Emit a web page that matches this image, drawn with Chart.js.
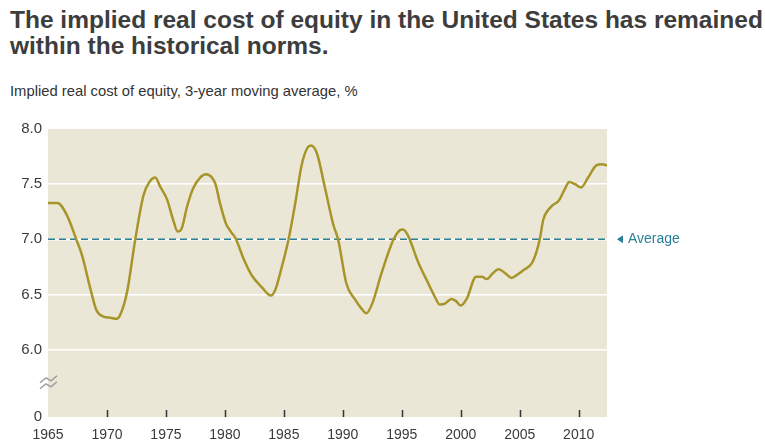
<!DOCTYPE html>
<html>
<head>
<meta charset="utf-8">
<script src="https://cdn.jsdelivr.net/npm/chart.js@4"></script>
<style>
  html, body { margin: 0; padding: 0; background: #fff; }
  #wrap { position: relative; width: 765px; height: 443px; overflow: hidden; }
  #title {
    position: absolute; left: 10px; top: 7px;
    font-family: "Liberation Sans Narrow", "Liberation Sans", Arial, sans-serif;
    font-weight: bold; font-size: 24.5px; line-height: 26px; color: #3d3d3d;
  }
  #subtitle {
    position: absolute; left: 10px; top: 83px;
    font-family: "Liberation Sans Narrow", "Liberation Sans", Arial, sans-serif;
    font-size: 14.8px; color: #333;
  }
  canvas { position: absolute; left: 0; top: 0; }
</style>
</head>
<body>
<div id="wrap">
  <div id="title">The implied real cost of equity in the United States has remained<br>within the historical norms.</div>
  <div id="subtitle">Implied real cost of equity, 3-year moving average, %</div>
  <canvas id="chart" width="765" height="443"></canvas>
</div>
<script>
// Implied real cost of equity, 3-year moving average
const years = [1965, 1965.8, 1966.6, 1967.4, 1967.9, 1968.6, 1969.1, 1969.7, 1970.3, 1970.8,
    1971.1, 1971.7, 1972.4, 1973.1, 1973.6, 1974.1, 1974.5, 1975.1, 1975.6, 1976.0,
    1976.3, 1976.8, 1977.3, 1977.9, 1978.4, 1978.9, 1979.2, 1979.6, 1980.1, 1980.5,
    1980.9, 1981.6, 1982.3, 1983.1, 1983.9, 1984.3, 1984.7, 1985.4, 1986.0, 1986.5,
    1987.0, 1987.3, 1987.8, 1988.5, 1989.2, 1989.6, 1990.3, 1991.0, 1991.6, 1992.0,
    1992.5, 1993.3, 1994.3, 1994.8, 1995.1, 1995.5, 1996.4, 1997.2, 1997.8, 1998.2,
    1998.7, 1999.2, 1999.6, 2000.0, 2000.5, 2001.3, 2001.8, 2002.2, 2002.7, 2003.2,
    2003.8, 2004.3, 2004.8, 2005.3, 2006.0, 2006.4, 2006.7, 2007.0, 2007.3, 2007.8,
    2008.3, 2008.8, 2009.2, 2009.7, 2010.2, 2010.8, 2011.5, 2012.0, 2012.4];
const costOfEquity = [7.33, 7.33, 7.22, 7.00, 6.85, 6.55, 6.36, 6.30, 6.29, 6.28,
    6.31, 6.52, 7.00, 7.40, 7.52, 7.56, 7.48, 7.36, 7.18, 7.07,
    7.09, 7.30, 7.46, 7.56, 7.59, 7.56, 7.50, 7.32, 7.14, 7.07,
    7.01, 6.82, 6.67, 6.57, 6.49, 6.55, 6.70, 7.00, 7.35, 7.67,
    7.83, 7.85, 7.78, 7.46, 7.13, 7.00, 6.60, 6.46, 6.37, 6.33,
    6.42, 6.70, 7.00, 7.08, 7.09, 7.04, 6.79, 6.61, 6.48, 6.41,
    6.42, 6.46, 6.44, 6.40, 6.46, 6.66, 6.66, 6.64, 6.69, 6.73,
    6.69, 6.65, 6.68, 6.72, 6.78, 6.88, 7.00, 7.18, 7.25, 7.31,
    7.35, 7.45, 7.52, 7.50, 7.47, 7.56, 7.67, 7.68, 7.67];

const averageValue = 7.0;
const averageLabel = 'Average';
const xTickYears = [1965, 1970, 1975, 1980, 1985, 1990, 1995, 2000, 2005, 2010];
const yTickValues = [6.0, 6.5, 7.0, 7.5, 8.0];
const xMin = 1965, xMax = 2012.4;
const yMin = 5.39, yMax = 8.0;   // bottom of the broken axis is labelled 0

const lineColor = '#a8952a';
const avgColor = '#2a7f98';

// plot background, inner x ticks, axis break and the "Average" label
const decorations = {
    id: 'decorations',
    beforeDraw(chart) {
        const { ctx, chartArea: a } = chart;
        ctx.save();
        ctx.fillStyle = '#ebe7d6';
        ctx.fillRect(a.left, a.top, a.right - a.left, a.bottom - a.top);
        ctx.restore();
    },
    afterDraw(chart) {
        const { ctx, chartArea: a, scales } = chart;
        ctx.save();
        // small tick marks inside the plot
        ctx.strokeStyle = '#333';
        ctx.lineWidth = 1.5;
        xTickYears.slice(1).forEach(yr => {
            const x = Math.round(scales.x.getPixelForValue(yr)) + 0.5;
            ctx.beginPath();
            ctx.moveTo(x, a.bottom - 7);
            ctx.lineTo(x, a.bottom);
            ctx.stroke();
        });
        // axis break symbol
        const by = scales.y.getPixelForValue(5.7);
        ctx.strokeStyle = '#9c9c9c';
        ctx.lineWidth = 1.5;
        [-3, 3].forEach(off => {
            ctx.beginPath();
            ctx.moveTo(a.left - 8, by + off + 3);
            ctx.lineTo(a.left - 2, by + off - 2);
            ctx.lineTo(a.left + 3, by + off + 1);
            ctx.lineTo(a.left + 9, by + off - 4);
            ctx.stroke();
        });
        // average label
        const ay = scales.y.getPixelForValue(averageValue);
        ctx.fillStyle = avgColor;
        ctx.beginPath();
        ctx.moveTo(a.right + 10, ay);
        ctx.lineTo(a.right + 16, ay - 4);
        ctx.lineTo(a.right + 16, ay + 4);
        ctx.closePath();
        ctx.fill();
        ctx.font = '14px "Liberation Sans", Arial, sans-serif';
        ctx.textBaseline = 'middle';
        ctx.fillText(averageLabel, a.right + 21, ay);
        ctx.restore();
    }
};

new Chart(document.getElementById('chart'), {
    type: 'line',
    data: {
        datasets: [
            {
                label: 'Implied real cost of equity',
                data: years.map((y, i) => ({ x: y, y: costOfEquity[i] })),
                borderColor: lineColor,
                borderWidth: 2.5,
                pointRadius: 0,
                cubicInterpolationMode: 'monotone',
                order: 1
            },
            {
                label: averageLabel,
                data: [{ x: xMin, y: averageValue }, { x: xMax, y: averageValue }],
                borderColor: avgColor,
                borderWidth: 1.5,
                borderDash: [7, 4],
                pointRadius: 0,
                order: 2
            }
        ]
    },
    options: {
        responsive: false,
        animation: false,
        layout: { padding: { top: 129, right: 158, left: 0, bottom: 0 } },
        scales: {
            x: {
                type: 'linear',
                min: xMin,
                max: xMax,
                afterBuildTicks: scale => { scale.ticks = xTickYears.map(v => ({ value: v })); },
                afterFit: scale => { scale.height = 26; },
                grid: { display: false },
                border: { display: false },
                ticks: {
                    padding: 2,
                    maxRotation: 0,
                    autoSkip: false,
                    color: '#3a3a3a',
                    font: { family: '"Liberation Sans", Arial, sans-serif', size: 14 },
                    callback: v => String(v)
                }
            },
            y: {
                min: yMin,
                max: yMax,
                afterBuildTicks: scale => {
                    scale.ticks = [yMin].concat(yTickValues).map(v => ({ value: v }));
                },
                afterFit: scale => { scale.width = 48; },
                grid: {
                    drawTicks: false,
                    lineWidth: 1.5,
                    color: ctx => (ctx.tick && ctx.tick.value > yMin && ctx.tick.value < yMax) ? '#ffffff' : 'rgba(0,0,0,0)'
                },
                border: { display: false },
                ticks: {
                    padding: 6,
                    color: '#3a3a3a',
                    font: { family: '"Liberation Sans", Arial, sans-serif', size: 15 },
                    callback: v => v === yMin ? '0' : v.toFixed(1)
                }
            }
        },
        plugins: {
            legend: { display: false },
            tooltip: { enabled: false }
        }
    },
    plugins: [decorations]
});
</script>
</body>
</html>
